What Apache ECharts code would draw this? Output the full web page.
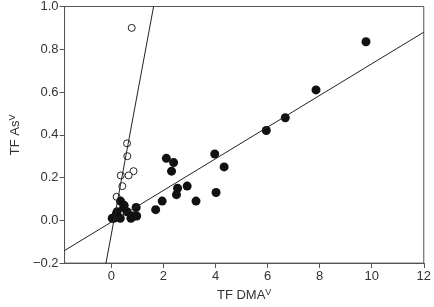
<!DOCTYPE html>
<html>
<head>
<meta charset="utf-8">
<script src="https://cdn.jsdelivr.net/npm/echarts@6/dist/echarts.min.js"></script>
<style>
html, body { margin: 0; padding: 0; background: #fff; }
#chart { width: 434px; height: 307px; }
</style>
</head>
<body>
<div id="chart"></div>
<script>
// filled circles: TF DMA vs TF As
var dmaFilled = [0.03, 0.09, 0.19, 0.22, 0.34, 0.35, 0.47, 0.49, 0.6, 0.75, 0.78, 0.87, 0.95, 0.97,
    1.7, 1.95, 2.11, 2.31, 2.39, 2.5, 2.54, 2.91, 3.25, 3.97, 4.02, 4.33, 5.95, 6.68, 7.86, 9.78];
var asFilled = [0.01, 0.01, 0.03, 0.04, 0.01, 0.09, 0.06, 0.07, 0.04, 0.01, 0.02, 0.02, 0.06, 0.02,
    0.05, 0.09, 0.29, 0.23, 0.27, 0.12, 0.15, 0.16, 0.09, 0.31, 0.13, 0.25, 0.42, 0.48, 0.61, 0.835];
// open circles
var dmaOpen = [0.78, 0.6, 0.61, 0.85, 0.66, 0.36, 0.42, 0.2];
var asOpen = [0.90, 0.36, 0.30, 0.23, 0.21, 0.21, 0.16, 0.11];
// regression lines [slope, intercept]
var fitFilled = [0.074, -0.008];
var fitOpen = [0.656, -0.063];
var xTicks = [0, 2, 4, 6, 8, 10, 12];

var xMin = -1.8, xMax = 12, yMin = -0.2, yMax = 1.0;

function pairs(xs, ys) {
    return xs.map(function (x, i) { return [x, ys[i]]; });
}
function fitLine(f) {
    return [[xMin, f[0] * xMin + f[1]], [xMax, f[0] * xMax + f[1]]];
}

var axisColor = '#555';
var supStyle = { fontSize: 9, verticalAlign: 'top', padding: [0, 0, 6, 0], fontFamily: 'Liberation Sans', color: '#333' };
var chart = echarts.init(document.getElementById('chart'));
var option = {
    animation: false,
    grid: {
        left: 64, right: 8, top: 5, bottom: 42,
        show: true, borderColor: axisColor, borderWidth: 1
    },
    xAxis: {
        type: 'value', min: xMin, max: xMax,
        splitLine: { show: false },
        axisLine: { onZero: false, lineStyle: { color: axisColor } },
        axisTick: { customValues: xTicks, length: 5, lineStyle: { color: axisColor } },
        axisLabel: {
            customValues: xTicks, color: '#333', fontSize: 13,
            fontFamily: 'Liberation Sans', margin: 7
        },
        name: 'TF DMA{sup|V}', nameLocation: 'middle', nameGap: 24,
        nameTextStyle: { color: '#333', fontSize: 13, fontFamily: 'Liberation Sans', rich: { sup: supStyle } }
    },
    yAxis: {
        type: 'value', min: yMin, max: yMax, interval: 0.2,
        splitLine: { show: false },
        axisLine: { show: true, onZero: false, lineStyle: { color: axisColor } },
        axisTick: { show: true, length: 5, lineStyle: { color: axisColor } },
        axisLabel: {
            color: '#333', fontSize: 13, fontFamily: 'Liberation Sans', margin: 6,
            formatter: function (v) { return v.toFixed(1).replace('-', '\u2212'); }
        },
        name: 'TF As{sup|V}', nameLocation: 'middle', nameGap: 40, nameRotate: 90,
        nameTextStyle: { color: '#333', fontSize: 13, fontFamily: 'Liberation Sans', rich: { sup: supStyle } }
    },
    series: [
        {
            type: 'line', data: fitLine(fitFilled), symbol: 'none', clip: true,
            lineStyle: { color: '#222', width: 1 }, silent: true
        },
        {
            type: 'line', data: fitLine(fitOpen), symbol: 'none', clip: true,
            lineStyle: { color: '#222', width: 1 }, silent: true
        },
        {
            type: 'scatter', data: pairs(dmaOpen, asOpen), symbol: 'circle', symbolSize: 7,
            itemStyle: { color: '#fff', borderColor: '#222', borderWidth: 1, opacity: 1 }
        },
        {
            type: 'scatter', data: pairs(dmaFilled, asFilled), symbol: 'circle', symbolSize: 9,
            itemStyle: { color: '#111', opacity: 1 }
        }
    ]
};
chart.setOption(option);
</script>
</body>
</html>
